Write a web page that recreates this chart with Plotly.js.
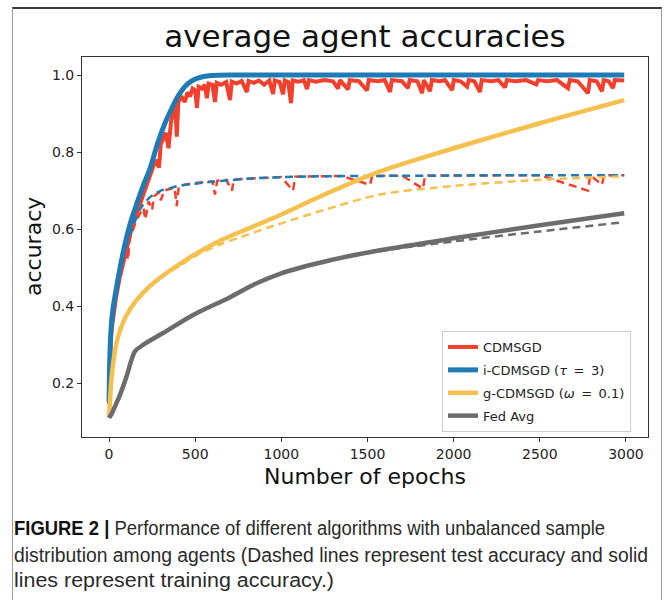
<!DOCTYPE html>
<html>
<head>
<meta charset="utf-8">
<script src="https://cdn.plot.ly/plotly-3.0.1.min.js"></script>
<style>
  html, body { margin: 0; padding: 0; background: #fff; }
  body { width: 665px; height: 600px; position: relative; overflow: hidden; }
  #frame { position: absolute; left: 12px; top: 7px; width: 650px; height: 610px;
           border: 1px solid #9a9a9a; border-top: 2px solid #3a3a3a; box-sizing: border-box; }
  #chart { position: absolute; left: 0; top: 0; width: 665px; height: 600px; }
  .cap { position: absolute; left: 14px; white-space: nowrap; transform-origin: 0 50%;
         font-family: "Liberation Sans", Arial, sans-serif; font-size: 20px; line-height: 24px;
         color: #2a2a2a; }
  .cap b { font-weight: bold; color: #111; }
</style>
</head>
<body>
<div id="frame"></div>
<div id="chart"></div>
<span class="cap" id="cap1" style="top:516px"><b>FIGURE 2 |</b> Performance of different algorithms with unbalanced sample</span>
<span class="cap" id="cap2" style="top:543px">distribution among agents (Dashed lines represent test accuracy and solid</span>
<span class="cap" id="cap3" style="top:568px">lines represent training accuracy.)</span>
<script>
// ---- data ----
const seriesNames = ["CDMSGD", "i-CDMSGD (<i>τ</i>\u2002=\u20023)", "g-CDMSGD (<i>ω</i>\u2002=\u20020.1)", "Fed Avg"];

// CDMSGD train (solid, noisy)
const cdTrainX = [0,3,8,15,25,40,60,80,100,130,160,200,240,270,290,300,330,345,360,375,385,393,402,420,440,455,470,485,500,510,520,540,555,568,578,600,615,625,650,680,702,712,740,770,800,810,840,870,900,930,952,962,990,1010,1020,1040,1056,1066,1100,1130,1149,1160,1200,1250,1300,1329,1340,1387,1397,1450,1497,1507,1560,1600,1631,1641,1700,1735,1745,1790,1817,1827,1863,1873,1920,1950,1991,2001,2040,2078,2088,2120,2153,2163,2220,2260,2298,2308,2360,2420,2480,2490,2540,2600,2664,2674,2720,2780,2790,2830,2861,2871,2900,2925,2935,2990];
const cdTrainY = [0.145,0.22,0.29,0.34,0.38,0.42,0.47,0.51,0.55,0.60,0.64,0.69,0.74,0.78,0.76,0.82,0.85,0.81,0.88,0.90,0.92,0.84,0.93,0.945,0.93,0.955,0.945,0.965,0.96,0.915,0.97,0.965,0.975,0.94,0.978,0.975,0.93,0.98,0.975,0.982,0.935,0.983,0.978,0.985,0.956,0.985,0.98,0.986,0.975,0.986,0.951,0.986,0.982,0.95,0.986,0.982,0.927,0.986,0.983,0.987,0.964,0.987,0.983,0.987,0.984,0.965,0.987,0.963,0.987,0.984,0.96,0.987,0.984,0.987,0.956,0.987,0.984,0.966,0.987,0.984,0.953,0.987,0.958,0.987,0.984,0.987,0.961,0.987,0.984,0.97,0.987,0.984,0.956,0.987,0.984,0.987,0.968,0.987,0.984,0.987,0.976,0.987,0.984,0.987,0.966,0.987,0.984,0.953,0.987,0.984,0.958,0.987,0.984,0.966,0.987,0.986];

// CDMSGD test (dashed, noisy)
const cdTestX = [0,3,8,15,25,40,60,80,100,110,120,140,160,180,200,210,230,250,260,290,300,320,350,380,393,405,450,500,550,600,615,628,680,713,725,800,900,1000,1068,1080,1200,1350,1515,1527,1700,1822,1834,2000,2300,2500,2780,2792,2861,2873,2990];
const cdTestY = [0.145,0.22,0.29,0.34,0.38,0.42,0.47,0.51,0.545,0.52,0.575,0.60,0.625,0.64,0.655,0.625,0.672,0.65,0.685,0.695,0.675,0.70,0.705,0.708,0.66,0.712,0.716,0.72,0.722,0.724,0.69,0.726,0.728,0.70,0.729,0.731,0.733,0.735,0.70,0.736,0.737,0.738,0.715,0.738,0.739,0.705,0.739,0.74,0.74,0.74,0.70,0.74,0.715,0.74,0.74];

// i-CDMSGD train / test
const icTrainX = [0,3,8,15,25,40,60,80,100,130,160,200,240,280,320,360,400,440,480,520,560,600,700,1000,1500,2000,2500,2990];
const icTrainY = [0.15,0.24,0.31,0.36,0.40,0.44,0.49,0.535,0.575,0.625,0.665,0.715,0.76,0.82,0.87,0.91,0.945,0.97,0.985,0.993,0.997,0.999,1.0,1.0,1.0,1.0,1.0,1.0];
const icTestX = [0,3,8,15,25,40,60,80,100,120,140,160,180,200,230,260,300,350,400,500,600,700,800,1000,1200,1500,2000,2500,2990];
const icTestY = [0.15,0.24,0.31,0.36,0.40,0.44,0.49,0.525,0.555,0.585,0.61,0.632,0.652,0.665,0.68,0.69,0.70,0.706,0.712,0.718,0.723,0.727,0.731,0.735,0.737,0.738,0.739,0.74,0.74];

// g-CDMSGD train / test
const gcTrainX = [0,5,12,25,46,70,100,150,220,300,412,500,644,800,917,1000,1250,1573,2000,2500,2990];
const gcTrainY = [0.11,0.15,0.20,0.255,0.31,0.345,0.375,0.41,0.445,0.475,0.51,0.535,0.57,0.60,0.622,0.638,0.69,0.75,0.81,0.875,0.935];
const gcTestX = [0,5,12,25,46,70,100,150,220,300,412,500,644,800,917,1000,1250,1573,2000,2500,2990];
const gcTestY = [0.11,0.15,0.20,0.255,0.31,0.345,0.375,0.41,0.445,0.475,0.505,0.53,0.56,0.585,0.603,0.615,0.65,0.69,0.712,0.728,0.737];

// Fed Avg train / test
const faTrainX = [0,15,30,64,100,130,151,200,313,488,702,850,992,1283,1573,2000,2500,2990];
const faTrainY = [0.11,0.12,0.135,0.17,0.215,0.26,0.283,0.30,0.33,0.377,0.423,0.458,0.484,0.519,0.545,0.576,0.61,0.641];
const faTestX = [0,15,30,64,100,130,151,200,313,488,702,850,992,1283,1573,2000,2500,2990];
const faTestY = [0.11,0.12,0.135,0.17,0.215,0.26,0.283,0.30,0.33,0.377,0.423,0.458,0.484,0.519,0.543,0.568,0.594,0.618];

const yTickVals = [0.2, 0.4, 0.6, 0.8, 1.0];
const xTickVals = [0, 500, 1000, 1500, 2000, 2500, 3000];

// ---- styling ----
const colors = ["#f2402c", "#1f7bb6", "#f6c04e", "#6c6c6c"];
const solidW = [4, 5, 4.5, 4.5];
const dashW = 2.5;
const dashStyle = "8px,5px";

function solid(x, y, i, shape) {
  return { x: x, y: y, type: "scatter", mode: "lines", name: seriesNames[i],
           legendgroup: "g" + i,
           line: { color: colors[i], width: solidW[i], shape: shape, smoothing: 0.8 },
           showlegend: true, hoverinfo: "skip" };
}
function dashed(x, y, i, shape) {
  return { x: x, y: y, type: "scatter", mode: "lines", name: seriesNames[i] + " test",
           legendgroup: "g" + i,
           line: { color: colors[i], width: dashW, dash: dashStyle, shape: shape, smoothing: 0.8 },
           showlegend: false, hoverinfo: "skip" };
}

const traces = [
  solid(cdTrainX, cdTrainY, 0, "linear"),
  dashed(cdTestX, cdTestY, 0, "linear"),
  solid(icTrainX, icTrainY, 1, "spline"),
  dashed(icTestX, icTestY, 1, "spline"),
  solid(gcTrainX, gcTrainY, 2, "spline"),
  dashed(gcTestX, gcTestY, 2, "spline"),
  solid(faTrainX, faTrainY, 3, "spline"),
  dashed(faTestX, faTestY, 3, "spline")
];

const axisFont = { family: "DejaVu Sans", size: 14, color: "#222" };
const layout = {
  width: 665, height: 600,
  margin: { l: 82, r: 17, t: 57, b: 163, pad: 0 },
  paper_bgcolor: "rgba(0,0,0,0)",
  plot_bgcolor: "#ffffff",
  title: { text: "average agent accuracies", x: 0.5, xref: "paper", xanchor: "center",
           y: 0.94, yref: "container", yanchor: "middle",
           font: { family: "DejaVu Sans", size: 31, color: "#111" } },
  xaxis: {
    range: [-157, 3128], tickvals: xTickVals, ticktext: xTickVals.map(String),
    ticks: "outside", ticklen: 4, tickwidth: 1, tickcolor: "#333",
    showline: true, linecolor: "#333", linewidth: 1, mirror: true,
    showgrid: false, zeroline: false, tickfont: axisFont
  },
  yaxis: {
    range: [0.06, 1.047], tickvals: yTickVals, ticktext: yTickVals.map(v => v.toFixed(1)),
    ticks: "outside", ticklen: 4, tickwidth: 1, tickcolor: "#333",
    showline: true, linecolor: "#333", linewidth: 1, mirror: true,
    showgrid: false, zeroline: false, tickfont: axisFont
  },
  annotations: [
    { text: "accuracy", xref: "paper", yref: "paper", x: -49 / 566, y: 0.5,
      xanchor: "center", yanchor: "middle", textangle: -90, showarrow: false,
      font: { family: "DejaVu Sans", size: 22, color: "#111" } },
    { text: "Number of epochs", xref: "paper", yref: "paper", x: 0.5, y: -39 / 380,
      xanchor: "center", yanchor: "middle", showarrow: false,
      font: { family: "DejaVu Sans", size: 22, color: "#111" } }
  ],
  legend: {
    x: (442 - 82) / 566, y: (437 - 331) / 380, xanchor: "left", yanchor: "top",
    bgcolor: "rgba(255,255,255,0.85)", bordercolor: "#cccccc", borderwidth: 1,
    font: { family: "DejaVu Sans", size: 13, color: "#222" },
    tracegroupgap: 3, entrywidth: 192, entrywidthmode: "pixels"
  },
  showlegend: true
};

Plotly.newPlot("chart", traces, layout, { staticPlot: true, displayModeBar: false });

// fit each caption line to the width it occupies in the reference
const capRight = { cap1: 605, cap2: 648, cap3: 334 };
Object.keys(capRight).forEach(function (id) {
  const el = document.getElementById(id);
  const w = el.getBoundingClientRect().width;
  el.style.transform = "scaleX(" + ((capRight[id] - 14) / w) + ")";
});
</script>
</body>
</html>
